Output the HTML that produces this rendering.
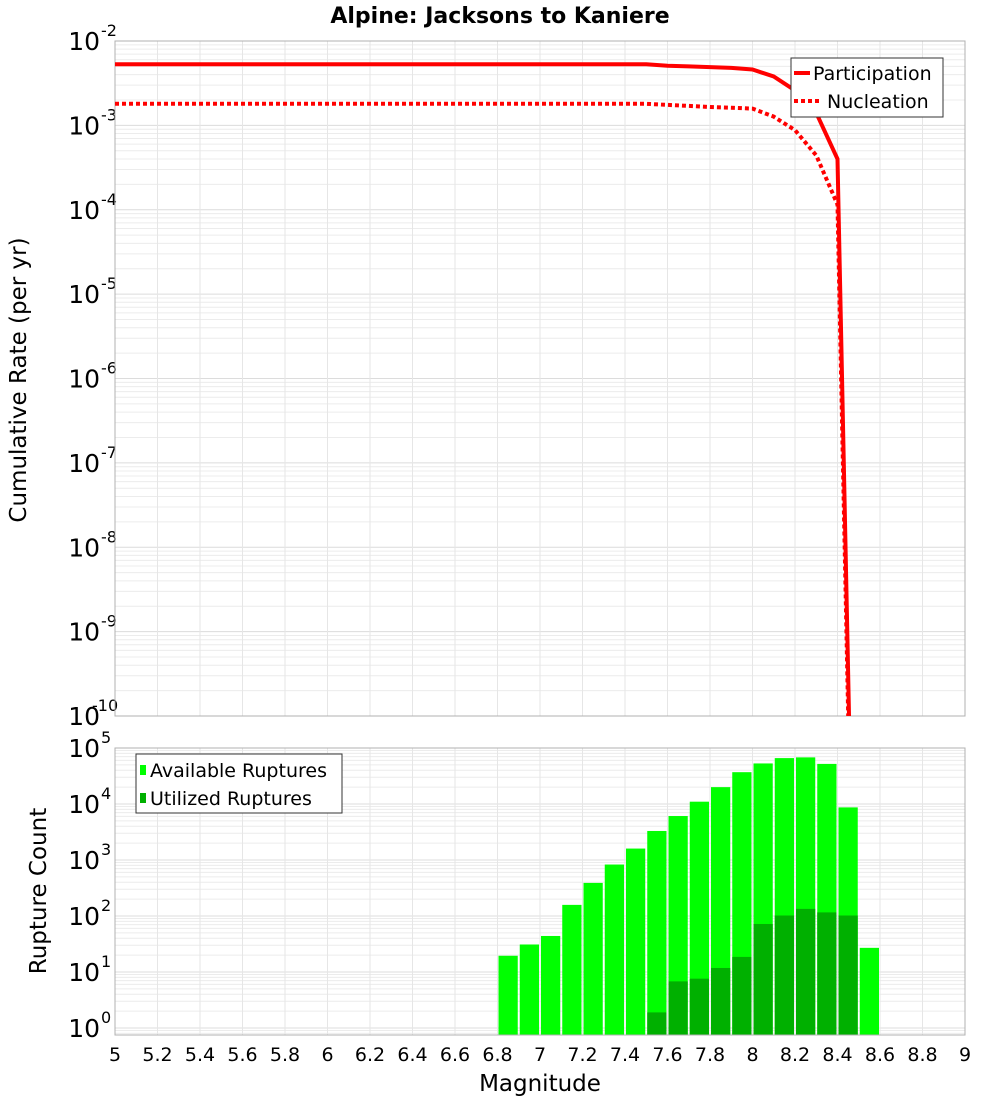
<!DOCTYPE html>
<html><head><meta charset="utf-8"><style>
html,body{margin:0;padding:0;background:#fff}
svg{display:block;font-family:"DejaVu Sans","Liberation Sans",sans-serif}
</style></head><body>
<svg id="c" width="1000" height="1100" viewBox="0 0 1000 1100" xmlns="http://www.w3.org/2000/svg">
<text x="500" y="23" text-anchor="middle" font-size="22" font-weight="bold">Alpine: Jacksons to Kaniere</text>
<g id="topPlot"></g>
<g id="botPlot"></g>
<text transform="translate(26,380) rotate(-90)" text-anchor="middle" font-size="23">Cumulative Rate (per yr)</text>
<text transform="translate(46,891) rotate(-90)" text-anchor="middle" font-size="23">Rupture Count</text>
<text x="540" y="1091" text-anchor="middle" font-size="23">Magnitude</text>
</svg>
<script>
const mags=[5,7.5,7.6,7.7,7.8,7.9,8.0,8.1,8.2,8.3,8.4,8.5];
const participation=[5.3e-3,5.3e-3,5.1e-3,5.0e-3,4.9e-3,4.8e-3,4.6e-3,3.8e-3,2.6e-3,1.4e-3,4.0e-4,2.5e-16];
const nucleation=[1.8e-3,1.8e-3,1.75e-3,1.7e-3,1.65e-3,1.62e-3,1.58e-3,1.27e-3,8.8e-4,4.4e-4,1.15e-4,1e-16];
const binCenters=[6.85,6.95,7.05,7.15,7.25,7.35,7.45,7.55,7.65,7.75,7.85,7.95,8.05,8.15,8.25,8.35,8.45,8.55];
const available=[19.5,31,44,158,390,830,1600,3300,6100,11000,20000,37000,53000,66000,68000,52000,8700,27];
const utilized=[0,0,0,0,0,0,0,1.9,6.8,7.6,11.8,18.6,72,102,134,116,102,0];
const xTicks=["5","5.2","5.4","5.6","5.8","6","6.2","6.4","6.6","6.8","7","7.2","7.4","7.6","7.8","8","8.2","8.4","8.6","8.8","9"];
const topExp=[-2,-3,-4,-5,-6,-7,-8,-9,-10];
const botExp=[0,1,2,3,4,5];

const NS="http://www.w3.org/2000/svg";
const PL=115,PR=965;
const xs=m=>PL+(m-5)*(PR-PL)/4;
const T0=41,T1=716;
const yT=v=>T0+(-2-Math.log10(v))*(T1-T0)/8;
const B0=748,B1=1035;
const yB=v=>B0+(5-Math.log10(v))*56;
function mk(p,t,a){const e=document.createElementNS(NS,t);for(const k in a)e.setAttribute(k,a[k]);p.appendChild(e);return e;}

function grid(g,y0,y1,decLo,decHi,yf){
  for(let d=decLo;d<decHi;d++)for(let k=1;k<10;k++){const y=yf(k*Math.pow(10,d));if(y<y0-0.5||y>y1+0.5)continue;
    const l=mk(g,'line',{x1:PL,x2:PR,y1:y,y2:y,stroke:k==1?'#dcdcdc':'#ececec','stroke-width':1});
    
    }
  xTicks.forEach(t=>{const x=xs(+t);const l=mk(g,'line',{x1:x,x2:x,y1:y0,y2:y1,stroke:'#e6e6e6','stroke-width':1});
    
    });
}
function ylab(g,exp,y,name){
  const t=mk(g,'text',{x:100,y:y+9,'text-anchor':'end','font-size':25});
  
  
  t.textContent='10';
  const s=mk(g,'text',{x:exp<=-10?92:101,y:y-5,'font-size':16,'text-anchor':'start'});
  
  
  s.textContent=String(exp);
}
const topG=document.getElementById('topPlot');
grid(topG,T0,T1,-10,-2,yT);
topExp.forEach(e=>ylab(topG,e,yT(Math.pow(10,e)),'y-tick-rate'));
const fr=mk(topG,'rect',{x:PL,y:T0,width:PR-PL,height:T1-T0,fill:'none',stroke:'#b0b0b0','stroke-width':1});


const cp=mk(topG,'clipPath',{id:'cp'});
mk(cp,'rect',{x:PL,y:T0,width:PR-PL,height:T1-T0});
function pathFrom(vals){return mags.map((m,i)=>(i?'L':'M')+xs(m).toFixed(1)+','+yT(vals[i]).toFixed(1)).join(' ');}
const pn=mk(topG,'path',{d:pathFrom(nucleation),fill:'none',stroke:'#ff0000','stroke-width':4,'stroke-dasharray':'4,3','clip-path':'url(#cp)'});


const pp=mk(topG,'path',{d:pathFrom(participation),fill:'none',stroke:'#ff0000','stroke-width':4,'clip-path':'url(#cp)'});


const lg=mk(topG,'g',{});


mk(lg,'rect',{x:791,y:58,width:152,height:59,fill:'#fff',stroke:'#333','stroke-width':1});
mk(lg,'line',{x1:794,x2:810,y1:73,y2:73,stroke:'#f00','stroke-width':4});
mk(lg,'line',{x1:794,x2:820,y1:101,y2:101,stroke:'#f00','stroke-width':4,'stroke-dasharray':'4,3'});
const lt1=mk(lg,'text',{x:813,y:80,'font-size':19});lt1.textContent='Participation';


const lt2=mk(lg,'text',{x:827,y:108,'font-size':19});lt2.textContent='Nucleation';



const botG=document.getElementById('botPlot');
grid(botG,B0,B1,-1,5,yB);
botExp.forEach(e=>ylab(botG,e,yB(Math.pow(10,e)),'y-tick-count'));
const bw=(xs(5.1)-xs(5))-2;
binCenters.forEach((c,i)=>{
  const x=xs(c)-bw/2;
  const y=yB(available[i]);
  const r=mk(botG,'rect',{x:x,y:y,width:bw,height:B1-y,fill:'#00ff00'});
  
  
  if(utilized[i]>0){const yu=yB(utilized[i]);
    const u=mk(botG,'rect',{x:x,y:yu,width:bw,height:B1-yu,fill:'#00b000'});
    
    }
});
const fb=mk(botG,'rect',{x:PL,y:B0,width:PR-PL,height:B1-B0,fill:'none',stroke:'#b0b0b0','stroke-width':1});


xTicks.forEach(t=>{const tx=mk(botG,'text',{x:xs(+t),y:1061,'text-anchor':'middle','font-size':19});tx.textContent=t;
  
  });
const bl=mk(botG,'g',{});


mk(bl,'rect',{x:136,y:754,width:206,height:59,fill:'#fff',stroke:'#333','stroke-width':1});
mk(bl,'rect',{x:140,y:765,width:6,height:10,fill:'#00ff00'});
mk(bl,'rect',{x:140,y:793,width:6,height:10,fill:'#00b000'});
const b1=mk(bl,'text',{x:150,y:777,'font-size':19});b1.textContent='Available Ruptures';


const b2=mk(bl,'text',{x:150,y:805,'font-size':19});b2.textContent='Utilized Ruptures';


</script>
</body></html>
